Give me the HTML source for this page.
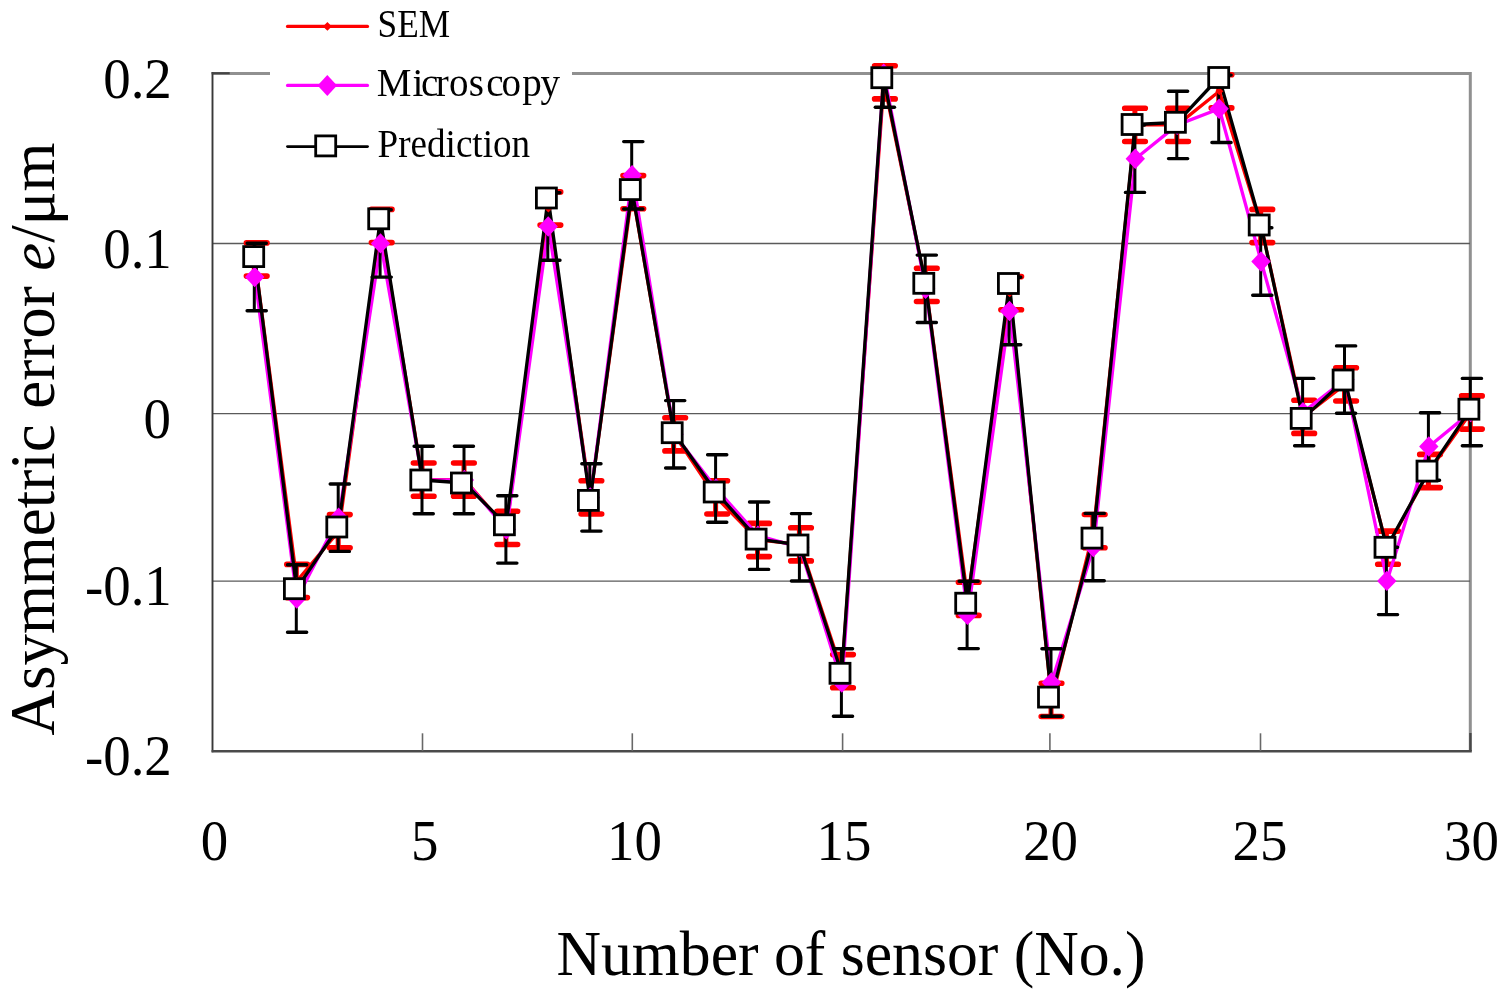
<!DOCTYPE html>
<html><head><meta charset="utf-8"><title>Asymmetric error chart</title>
<style>
html,body{margin:0;padding:0;background:#fff;}
body{width:1509px;height:1000px;overflow:hidden;}
svg{display:block;}
text{font-family:"Liberation Serif",serif;fill:#000;}
</style></head><body>
<svg width="1509" height="1000" viewBox="0 0 1509 1000">
<rect x="0" y="0" width="1509" height="1000" fill="#fff"/>

<path d="M212.5 73.4 H1470.3 V751" fill="none" stroke="#909090" stroke-width="3"/>
<line x1="213" x2="1470" y1="243.5" y2="243.5" stroke="#5a5a5a" stroke-width="1.3"/>
<line x1="213" x2="1470" y1="413.6" y2="413.6" stroke="#5a5a5a" stroke-width="1.3"/>
<line x1="213" x2="1470" y1="581.1" y2="581.1" stroke="#5a5a5a" stroke-width="1.3"/>
<line x1="212.5" x2="212.5" y1="72" y2="752.3" stroke="#383838" stroke-width="1.9"/>
<line x1="211.6" x2="1471.8" y1="751.2" y2="751.2" stroke="#4a4a4a" stroke-width="2.5"/>
<line x1="211.6" x2="229.7" y1="73.2" y2="73.2" stroke="#444" stroke-width="2.1"/>
<line x1="422.5" x2="422.5" y1="733.3" y2="751" stroke="#686868" stroke-width="1.6"/>
<line x1="632.3" x2="632.3" y1="733.3" y2="751" stroke="#686868" stroke-width="1.6"/>
<line x1="842.6" x2="842.6" y1="733.3" y2="751" stroke="#686868" stroke-width="1.6"/>
<line x1="1049.9" x2="1049.9" y1="733.3" y2="751" stroke="#686868" stroke-width="1.6"/>
<line x1="1260.5" x2="1260.5" y1="733.3" y2="751" stroke="#686868" stroke-width="1.6"/>
<line x1="1470.4" x2="1470.4" y1="733" y2="751" stroke="#484848" stroke-width="2.4"/>
<polyline points="254.9,259.5 296.9,581.0 338.8,531.2 380.7,226.0 422.6,479.6 464.6,479.6 506.5,527.9 548.4,208.5 590.4,497.4 632.3,192.2 674.2,434.3 716.2,497.4 758.1,540.0 800.0,544.3 842.0,671.2 883.9,82.3 925.8,284.9 967.7,598.8 1009.7,293.2 1051.6,699.9 1093.5,531.1 1135.5,124.9 1177.4,124.9 1219.3,91.3 1261.2,226.0 1303.2,416.8 1345.1,384.4 1387.0,547.7 1429.0,471.0 1470.9,412.5" fill="none" stroke="#ff0000" stroke-width="3.3" stroke-linejoin="round"/>
<g stroke="#ff0000" stroke-width="5.6" stroke-linecap="round" fill="none">
<path d="M246.4 242.9h20.6M246.4 276.1h20.6"/>
<path d="M286.8 564.4h20.6M286.8 597.6h20.6"/>
<path d="M329.5 514.6h20.6M329.5 547.8h20.6"/>
<path d="M371.4 209.4h20.6M371.4 242.6h20.6"/>
<path d="M413.4 463.0h20.6M413.4 496.2h20.6"/>
<path d="M453.6 463.0h20.6M453.6 496.2h20.6"/>
<path d="M497.0 511.3h20.6M497.0 544.5h20.6"/>
<path d="M540.1 191.9h20.6M540.1 225.1h20.6"/>
<path d="M581.1 480.8h20.6M581.1 514.0h20.6"/>
<path d="M623.0 175.6h20.6M623.0 208.8h20.6"/>
<path d="M664.9 417.7h20.6M664.9 450.9h20.6"/>
<path d="M706.9 480.8h20.6M706.9 514.0h20.6"/>
<path d="M748.8 523.4h20.6M748.8 556.6h20.6"/>
<path d="M790.7 527.7h20.6M790.7 560.9h20.6"/>
<path d="M832.7 654.6h20.6M832.7 687.8h20.6"/>
<path d="M874.6 65.7h20.6M874.6 98.9h20.6"/>
<path d="M916.5 268.3h20.6M916.5 301.5h20.6"/>
<path d="M958.4 582.2h20.6M958.4 615.4h20.6"/>
<path d="M1000.9 276.6h20.6M1000.9 309.8h20.6"/>
<path d="M1041.2 683.3h20.6M1041.2 716.5h20.6"/>
<path d="M1084.4 514.5h20.6M1084.4 547.7h20.6"/>
<path d="M1124.7 108.3h20.6M1124.7 141.5h20.6"/>
<path d="M1167.8 108.3h20.6M1167.8 141.5h20.6"/>
<path d="M1211.2 74.7h20.6M1211.2 107.9h20.6"/>
<path d="M1252.0 209.4h20.6M1252.0 242.6h20.6"/>
<path d="M1293.9 400.2h20.6M1293.9 433.4h20.6"/>
<path d="M1335.8 367.8h20.6M1335.8 401.0h20.6"/>
<path d="M1377.7 531.1h20.6M1377.7 564.3h20.6"/>
<path d="M1419.7 454.4h20.6M1419.7 487.6h20.6"/>
<path d="M1461.6 395.9h20.6M1461.6 429.1h20.6"/>
</g>
<g stroke="#ff0000" stroke-width="5" fill="none">
<path d="M254.3 242.9V276.1"/>
<path d="M296.3 564.4V597.6"/>
<path d="M338.2 514.6V547.8"/>
<path d="M380.1 209.4V242.6"/>
<path d="M422.0 463.0V496.2"/>
<path d="M464.0 463.0V496.2"/>
<path d="M505.9 511.3V544.5"/>
<path d="M547.8 191.9V225.1"/>
<path d="M589.8 480.8V514.0"/>
<path d="M631.7 175.6V208.8"/>
<path d="M673.6 417.7V450.9"/>
<path d="M715.6 480.8V514.0"/>
<path d="M757.5 523.4V556.6"/>
<path d="M799.4 527.7V560.9"/>
<path d="M841.4 654.6V687.8"/>
<path d="M883.3 65.7V98.9"/>
<path d="M925.2 268.3V301.5"/>
<path d="M967.1 582.2V615.4"/>
<path d="M1009.1 276.6V309.8"/>
<path d="M1051.0 683.3V716.5"/>
<path d="M1092.9 514.5V547.7"/>
<path d="M1134.9 108.3V141.5"/>
<path d="M1176.8 108.3V141.5"/>
<path d="M1218.7 74.7V107.9"/>
<path d="M1260.7 209.4V242.6"/>
<path d="M1302.6 400.2V433.4"/>
<path d="M1344.5 367.8V401.0"/>
<path d="M1386.4 531.1V564.3"/>
<path d="M1428.4 454.4V487.6"/>
<path d="M1470.3 395.9V429.1"/>
</g>
<polyline points="254.9,277.0 296.9,598.5 338.8,517.7 380.7,243.4 422.6,480.0 464.6,480.0 506.5,529.4 548.4,226.5 590.4,497.4 632.3,175.3 674.2,434.3 716.2,488.5 758.1,535.7 800.0,547.3 842.0,682.5 883.9,73.6 925.8,288.8 967.7,614.9 1009.7,311.0 1051.6,682.5 1093.5,547.1 1135.5,158.7 1177.4,124.9 1219.3,108.8 1261.2,261.5 1303.2,412.1 1345.1,379.6 1387.0,580.9 1429.0,446.5 1470.9,412.1" fill="none" stroke="#ff00ff" stroke-width="3.3" stroke-linejoin="round"/>
<g stroke="#000" stroke-width="3.4" stroke-linecap="round" fill="none">
<path d="M247.1 243.3h19.2M247.1 310.7h19.2"/>
<path d="M287.5 564.8h19.2M287.5 632.2h19.2"/>
<path d="M330.2 484.0h19.2M330.2 551.4h19.2"/>
<path d="M372.1 209.7h19.2M372.1 277.1h19.2"/>
<path d="M414.1 446.3h19.2M414.1 513.7h19.2"/>
<path d="M454.3 446.3h19.2M454.3 513.7h19.2"/>
<path d="M497.7 495.7h19.2M497.7 563.1h19.2"/>
<path d="M540.8 192.8h19.2M540.8 260.2h19.2"/>
<path d="M581.8 463.7h19.2M581.8 531.1h19.2"/>
<path d="M623.7 141.6h19.2M623.7 209.0h19.2"/>
<path d="M665.6 400.6h19.2M665.6 468.0h19.2"/>
<path d="M707.6 454.8h19.2M707.6 522.2h19.2"/>
<path d="M749.5 502.0h19.2M749.5 569.4h19.2"/>
<path d="M791.4 513.6h19.2M791.4 581.0h19.2"/>
<path d="M833.4 648.8h19.2M833.4 716.2h19.2"/>
<path d="M875.3 107.3h19.2"/>
<path d="M917.2 255.1h19.2M917.2 322.5h19.2"/>
<path d="M959.1 581.2h19.2M959.1 648.6h19.2"/>
<path d="M1001.6 277.3h19.2M1001.6 344.7h19.2"/>
<path d="M1041.9 648.8h19.2M1041.9 716.2h19.2"/>
<path d="M1085.1 513.4h19.2M1085.1 580.8h19.2"/>
<path d="M1125.4 125.0h19.2M1125.4 192.4h19.2"/>
<path d="M1168.5 91.2h19.2M1168.5 158.6h19.2"/>
<path d="M1211.9 75.1h19.2M1211.9 142.5h19.2"/>
<path d="M1252.7 227.8h19.2M1252.7 295.2h19.2"/>
<path d="M1294.6 378.4h19.2M1294.6 445.8h19.2"/>
<path d="M1336.5 345.9h19.2M1336.5 413.3h19.2"/>
<path d="M1378.4 547.2h19.2M1378.4 614.6h19.2"/>
<path d="M1420.4 412.8h19.2M1420.4 480.2h19.2"/>
<path d="M1462.3 378.4h19.2M1462.3 445.8h19.2"/>
</g>
<g stroke="#000" stroke-width="3" fill="none">
<path d="M254.3 243.3V310.7"/>
<path d="M296.3 564.8V632.2"/>
<path d="M338.2 484.0V551.4"/>
<path d="M380.1 209.7V277.1"/>
<path d="M422.0 446.3V513.7"/>
<path d="M464.0 446.3V513.7"/>
<path d="M505.9 495.7V563.1"/>
<path d="M547.8 192.8V260.2"/>
<path d="M589.8 463.7V531.1"/>
<path d="M631.7 141.6V209.0"/>
<path d="M673.6 400.6V468.0"/>
<path d="M715.6 454.8V522.2"/>
<path d="M757.5 502.0V569.4"/>
<path d="M799.4 513.6V581.0"/>
<path d="M841.4 648.8V716.2"/>
<path d="M883.3 73.6V107.3"/>
<path d="M925.2 255.1V322.5"/>
<path d="M967.1 581.2V648.6"/>
<path d="M1009.1 277.3V344.7"/>
<path d="M1051.0 648.8V716.2"/>
<path d="M1092.9 513.4V580.8"/>
<path d="M1134.9 125.0V192.4"/>
<path d="M1176.8 91.2V158.6"/>
<path d="M1218.7 75.1V142.5"/>
<path d="M1260.7 227.8V295.2"/>
<path d="M1302.6 378.4V445.8"/>
<path d="M1344.5 345.9V413.3"/>
<path d="M1386.4 547.2V614.6"/>
<path d="M1428.4 412.8V480.2"/>
<path d="M1470.3 378.4V445.8"/>
</g>
<polyline points="254.6,256.6 296.6,588.7 338.5,527.0 380.4,218.8 422.3,480.0 464.3,483.0 506.2,524.8 548.1,198.0 590.1,500.4 632.0,189.6 673.9,432.7 715.9,492.0 757.8,539.1 799.7,545.0 841.7,673.3 883.6,77.7 925.5,283.3 967.4,603.2 1009.4,283.5 1051.3,697.1 1093.2,538.1 1135.2,124.5 1177.1,122.3 1219.0,77.5 1261.0,225.0 1302.9,418.4 1344.8,380.0 1386.7,547.3 1428.7,471.1 1470.6,409.2" fill="none" stroke="#000" stroke-width="3.3" stroke-linejoin="round"/>
<g fill="#ff0000">
<path d="M254.9 255.5l4 4l-4 4l-4 -4Z"/>
<path d="M296.9 577.0l4 4l-4 4l-4 -4Z"/>
<path d="M338.8 527.2l4 4l-4 4l-4 -4Z"/>
<path d="M380.7 222.0l4 4l-4 4l-4 -4Z"/>
<path d="M422.6 475.6l4 4l-4 4l-4 -4Z"/>
<path d="M464.6 475.6l4 4l-4 4l-4 -4Z"/>
<path d="M506.5 523.9l4 4l-4 4l-4 -4Z"/>
<path d="M548.4 204.5l4 4l-4 4l-4 -4Z"/>
<path d="M590.4 493.4l4 4l-4 4l-4 -4Z"/>
<path d="M632.3 188.2l4 4l-4 4l-4 -4Z"/>
<path d="M674.2 430.3l4 4l-4 4l-4 -4Z"/>
<path d="M716.2 493.4l4 4l-4 4l-4 -4Z"/>
<path d="M758.1 536.0l4 4l-4 4l-4 -4Z"/>
<path d="M800.0 540.3l4 4l-4 4l-4 -4Z"/>
<path d="M842.0 667.2l4 4l-4 4l-4 -4Z"/>
<path d="M883.9 78.3l4 4l-4 4l-4 -4Z"/>
<path d="M925.8 280.9l4 4l-4 4l-4 -4Z"/>
<path d="M967.7 594.8l4 4l-4 4l-4 -4Z"/>
<path d="M1009.7 289.2l4 4l-4 4l-4 -4Z"/>
<path d="M1051.6 695.9l4 4l-4 4l-4 -4Z"/>
<path d="M1093.5 527.1l4 4l-4 4l-4 -4Z"/>
<path d="M1135.5 120.9l4 4l-4 4l-4 -4Z"/>
<path d="M1177.4 120.9l4 4l-4 4l-4 -4Z"/>
<path d="M1219.3 87.3l4 4l-4 4l-4 -4Z"/>
<path d="M1261.2 222.0l4 4l-4 4l-4 -4Z"/>
<path d="M1303.2 412.8l4 4l-4 4l-4 -4Z"/>
<path d="M1345.1 380.4l4 4l-4 4l-4 -4Z"/>
<path d="M1387.0 543.7l4 4l-4 4l-4 -4Z"/>
<path d="M1429.0 467.0l4 4l-4 4l-4 -4Z"/>
<path d="M1470.9 408.5l4 4l-4 4l-4 -4Z"/>
</g>
<g fill="#ff00ff">
<path d="M254.7 266.8l9.7 10.2l-9.7 10.2l-9.7 -10.2Z"/>
<path d="M296.7 588.3l9.7 10.2l-9.7 10.2l-9.7 -10.2Z"/>
<path d="M338.6 507.5l9.7 10.2l-9.7 10.2l-9.7 -10.2Z"/>
<path d="M380.5 233.2l9.7 10.2l-9.7 10.2l-9.7 -10.2Z"/>
<path d="M422.4 469.8l9.7 10.2l-9.7 10.2l-9.7 -10.2Z"/>
<path d="M464.4 469.8l9.7 10.2l-9.7 10.2l-9.7 -10.2Z"/>
<path d="M506.3 519.2l9.7 10.2l-9.7 10.2l-9.7 -10.2Z"/>
<path d="M548.2 216.3l9.7 10.2l-9.7 10.2l-9.7 -10.2Z"/>
<path d="M590.2 487.2l9.7 10.2l-9.7 10.2l-9.7 -10.2Z"/>
<path d="M632.1 165.1l9.7 10.2l-9.7 10.2l-9.7 -10.2Z"/>
<path d="M674.0 424.1l9.7 10.2l-9.7 10.2l-9.7 -10.2Z"/>
<path d="M716.0 478.3l9.7 10.2l-9.7 10.2l-9.7 -10.2Z"/>
<path d="M757.9 525.5l9.7 10.2l-9.7 10.2l-9.7 -10.2Z"/>
<path d="M799.8 537.1l9.7 10.2l-9.7 10.2l-9.7 -10.2Z"/>
<path d="M841.8 672.3l9.7 10.2l-9.7 10.2l-9.7 -10.2Z"/>
<path d="M883.7 63.4l9.7 10.2l-9.7 10.2l-9.7 -10.2Z"/>
<path d="M925.6 278.6l9.7 10.2l-9.7 10.2l-9.7 -10.2Z"/>
<path d="M967.5 604.7l9.7 10.2l-9.7 10.2l-9.7 -10.2Z"/>
<path d="M1009.5 300.8l9.7 10.2l-9.7 10.2l-9.7 -10.2Z"/>
<path d="M1051.4 672.3l9.7 10.2l-9.7 10.2l-9.7 -10.2Z"/>
<path d="M1093.3 536.9l9.7 10.2l-9.7 10.2l-9.7 -10.2Z"/>
<path d="M1135.3 148.5l9.7 10.2l-9.7 10.2l-9.7 -10.2Z"/>
<path d="M1177.2 114.7l9.7 10.2l-9.7 10.2l-9.7 -10.2Z"/>
<path d="M1219.1 98.6l9.7 10.2l-9.7 10.2l-9.7 -10.2Z"/>
<path d="M1261.0 251.3l9.7 10.2l-9.7 10.2l-9.7 -10.2Z"/>
<path d="M1303.0 401.9l9.7 10.2l-9.7 10.2l-9.7 -10.2Z"/>
<path d="M1344.9 369.4l9.7 10.2l-9.7 10.2l-9.7 -10.2Z"/>
<path d="M1386.8 570.7l9.7 10.2l-9.7 10.2l-9.7 -10.2Z"/>
<path d="M1428.8 436.3l9.7 10.2l-9.7 10.2l-9.7 -10.2Z"/>
<path d="M1470.7 401.9l9.7 10.2l-9.7 10.2l-9.7 -10.2Z"/>
</g>
<g fill="#fff" stroke="#000" stroke-width="2.8">
<rect x="243.7" y="246.6" width="20" height="20"/>
<rect x="284.4" y="578.7" width="20" height="20"/>
<rect x="326.8" y="517.0" width="20" height="20"/>
<rect x="368.7" y="208.8" width="20" height="20"/>
<rect x="410.8" y="470.0" width="20" height="20"/>
<rect x="451.4" y="473.0" width="20" height="20"/>
<rect x="494.4" y="514.8" width="20" height="20"/>
<rect x="536.4" y="188.0" width="20" height="20"/>
<rect x="578.4" y="490.4" width="20" height="20"/>
<rect x="620.3" y="179.6" width="20" height="20"/>
<rect x="662.2" y="422.7" width="20" height="20"/>
<rect x="704.2" y="482.0" width="20" height="20"/>
<rect x="746.1" y="529.1" width="20" height="20"/>
<rect x="788.0" y="535.0" width="20" height="20"/>
<rect x="830.0" y="663.3" width="20" height="20"/>
<rect x="871.8" y="67.7" width="20" height="20"/>
<rect x="913.8" y="273.3" width="20" height="20"/>
<rect x="955.7" y="593.2" width="20" height="20"/>
<rect x="998.4" y="273.5" width="20" height="20"/>
<rect x="1038.5" y="687.1" width="20" height="20"/>
<rect x="1082.0" y="528.1" width="20" height="20"/>
<rect x="1122.1" y="114.5" width="20" height="20"/>
<rect x="1165.4" y="112.3" width="20" height="20"/>
<rect x="1208.7" y="67.5" width="20" height="20"/>
<rect x="1249.2" y="215.0" width="20" height="20"/>
<rect x="1291.2" y="408.4" width="20" height="20"/>
<rect x="1333.1" y="370.0" width="20" height="20"/>
<rect x="1375.0" y="537.3" width="20" height="20"/>
<rect x="1417.0" y="461.1" width="20" height="20"/>
<rect x="1458.9" y="399.2" width="20" height="20"/>
</g>
<rect x="270" y="0" width="302" height="172" fill="#fff"/>
<line x1="287.5" x2="367.5" y1="26.4" y2="26.4" stroke="#ff0000" stroke-width="3.2" stroke-linecap="round"/>
<path d="M327.4 22L331.8 26.4L327.4 30.8L323 26.4Z" fill="#ff0000"/>
<line x1="287.5" x2="367.5" y1="85.4" y2="85.4" stroke="#ff00ff" stroke-width="3.1" stroke-linecap="round"/>
<path d="M327.3 75L337 85.5L327.3 96L317.6 85.5Z" fill="#ff00ff"/>
<line x1="287.5" x2="367.5" y1="146.6" y2="146.6" stroke="#000" stroke-width="2.9" stroke-linecap="round"/>
<rect x="315.7" y="135.9" width="20" height="20" fill="#fff" stroke="#000" stroke-width="2.8"/>
<text id="lg1" x="377.6" y="37" font-size="39" textLength="72.5" lengthAdjust="spacingAndGlyphs">SEM</text>
<text id="lg2" transform="scale(1.0 1)" x="376.8 412.4 421.0 435.8 448.9 468.7 486.3 501.4 522.2 540.5" y="95.6" font-size="39">Microscopy</text>
<text id="lg3" x="377.6" y="157" font-size="39" textLength="152.5" lengthAdjust="spacingAndGlyphs">Prediction</text>
<text class="yl" transform="translate(171.8 97.8) scale(0.98 1)" font-size="56" text-anchor="end">0.2</text>
<text class="yl" transform="translate(171.8 267.8) scale(0.98 1)" font-size="56" text-anchor="end">0.1</text>
<text class="yl" transform="translate(170.9 437.9) scale(0.98 1)" font-size="56" text-anchor="end">0</text>
<text class="yl" transform="translate(171.8 605.4) scale(0.98 1)" font-size="56" text-anchor="end">-0.1</text>
<text class="yl" transform="translate(171.8 775.4) scale(0.98 1)" font-size="56" text-anchor="end">-0.2</text>
<text class="xl" transform="translate(214.4 859.6) scale(0.98 1)" font-size="56" text-anchor="middle">0</text>
<text class="xl" transform="translate(424.6 859.6) scale(0.98 1)" font-size="56" text-anchor="middle">5</text>
<text class="xl" transform="translate(634.5 859.6) scale(0.98 1)" font-size="56" text-anchor="middle">10</text>
<text class="xl" transform="translate(843.9 859.6) scale(0.98 1)" font-size="56" text-anchor="middle">15</text>
<text class="xl" transform="translate(1050.6 859.6) scale(0.98 1)" font-size="56" text-anchor="middle">20</text>
<text class="xl" transform="translate(1260.0 859.6) scale(0.98 1)" font-size="56" text-anchor="middle">25</text>
<text class="xl" transform="translate(1471.5 859.6) scale(0.98 1)" font-size="56" text-anchor="middle">30</text>
<text id="xt" transform="translate(556.5 974.6) scale(0.9636 1)" font-size="64">Number of sensor (No.)</text>
<text id="yt" transform="translate(54.4 735.5) rotate(-90) scale(0.9834 1)" font-size="64">Asymmetric error <tspan font-style="italic">e</tspan>/μm</text>
</svg></body></html>
